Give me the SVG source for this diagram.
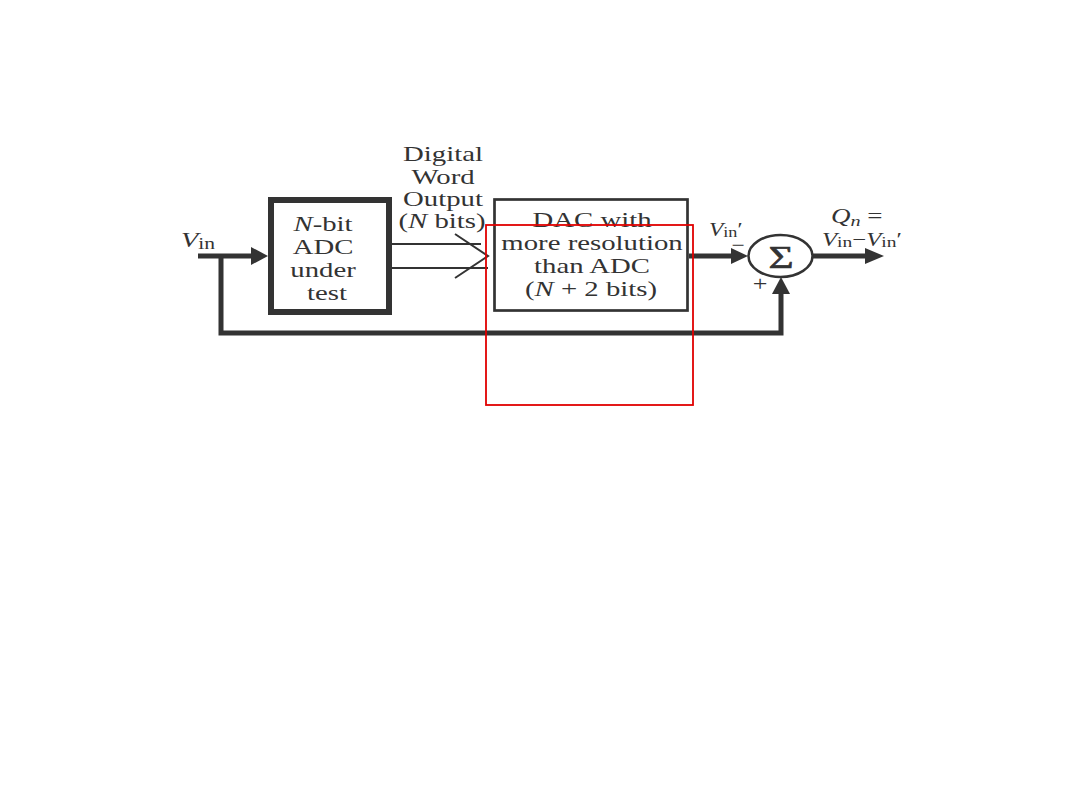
<svg xmlns="http://www.w3.org/2000/svg" width="1080" height="810" viewBox="0 0 1080 810">
<style>
.t{font-family:"Liberation Serif","Times New Roman",serif;font-size:21px;fill:#333;text-anchor:middle}
.i{font-style:italic}
.thick{stroke:#333;stroke-width:5;fill:none}
.thin{stroke:#333;stroke-width:2;fill:none}
.ah{fill:#333}
</style>
<rect width="1080" height="810" fill="#fff"/>
<g id="connectors">
  <path class="thick" d="M198 256H254"/>
  <polygon class="ah" points="268,256 251,247 251,265"/>
  <path class="thick" d="M221 256V333H781V292"/>
  <polygon class="ah" points="781,277 772,294 790,294"/>
  <path class="thin" d="M392 244H481M392 268H488"/>
  <path class="thin" d="M455 234L488 256L455 278"/>
  <path class="thick" d="M689 256H733"/>
  <polygon class="ah" points="748,256 731,248 731,264"/>
  <path class="thick" d="M813 256H867"/>
  <polygon class="ah" points="884,256 865,248 865,264"/>
</g>
<g id="label-digital">
  <g transform="translate(443,161) scale(1.37,1)"><text class="t">Digital</text></g>
  <g transform="translate(443,184) scale(1.37,1)"><text class="t">Word</text></g>
  <g transform="translate(443,206) scale(1.37,1)"><text class="t">Output</text></g>
  <g transform="translate(442,228) scale(1.37,1)"><text class="t">(<tspan class="i">N</tspan> bits)</text></g>
</g>
<g id="adc">
  <rect x="271" y="200" width="118" height="112" fill="none" stroke="#333" stroke-width="6"/>
  <g transform="translate(323,231) scale(1.37,1)"><text class="t"><tspan class="i">N</tspan>-bit</text></g>
  <g transform="translate(323,254) scale(1.37,1)"><text class="t">ADC</text></g>
  <g transform="translate(323,277) scale(1.37,1)"><text class="t">under</text></g>
  <g transform="translate(327,300) scale(1.37,1)"><text class="t">test</text></g>
</g>
<g id="dac">
  <rect x="494.5" y="199.5" width="193" height="111" fill="none" stroke="#333" stroke-width="2.7"/>
  <g transform="translate(592,227) scale(1.37,1)"><text class="t">DAC with</text></g>
  <g transform="translate(592,250) scale(1.37,1)"><text class="t">more resolution</text></g>
  <g transform="translate(592,273) scale(1.37,1)"><text class="t">than ADC</text></g>
  <g transform="translate(591,296) scale(1.37,1)"><text class="t">(<tspan class="i">N</tspan> + 2 bits)</text></g>
</g>
<g id="sum">
  <ellipse cx="780.5" cy="256" rx="32" ry="21" fill="#fff" stroke="#333" stroke-width="2.5"/>
  <g transform="translate(781,268) scale(1.35,1)"><text class="t" style="font-size:32px;stroke:#333;stroke-width:0.6">Σ</text></g>
  <g transform="translate(738,251) scale(1.3,1)"><text class="t" style="font-size:18px">−</text></g>
  <g transform="translate(760,291) scale(1.3,1)"><text class="t" style="font-size:20px">+</text></g>
</g>
<g id="label-vin">
  <g transform="translate(181,247) scale(1.35,1)"><text class="t" style="text-anchor:start"><tspan class="i">V</tspan><tspan font-size="16" dy="2">in</tspan></text></g>
</g>
<g id="label-vinp">
  <g transform="translate(709,236) scale(1.3,1)"><text class="t" style="text-anchor:start;font-size:18px"><tspan class="i">V</tspan><tspan font-size="14" dy="1">in</tspan><tspan dy="-1">′</tspan></text></g>
</g>
<g id="label-qn">
  <g transform="translate(831,223) scale(1.35,1)"><text class="t" style="text-anchor:start;font-size:20px"><tspan class="i">Q</tspan><tspan class="i" font-size="15" dy="3">n</tspan><tspan dy="-3"> =</tspan></text></g>
  <g transform="translate(822,246) scale(1.3,1)"><text class="t" style="text-anchor:start;font-size:19px"><tspan class="i">V</tspan><tspan font-size="15" dy="1">in</tspan><tspan dy="-1">−</tspan><tspan class="i">V</tspan><tspan font-size="15" dy="1">in</tspan><tspan dy="-1">′</tspan></text></g>
</g>
<rect x="486" y="225" width="207" height="180" fill="none" stroke="#e00000" stroke-width="1.8"/>
</svg>
